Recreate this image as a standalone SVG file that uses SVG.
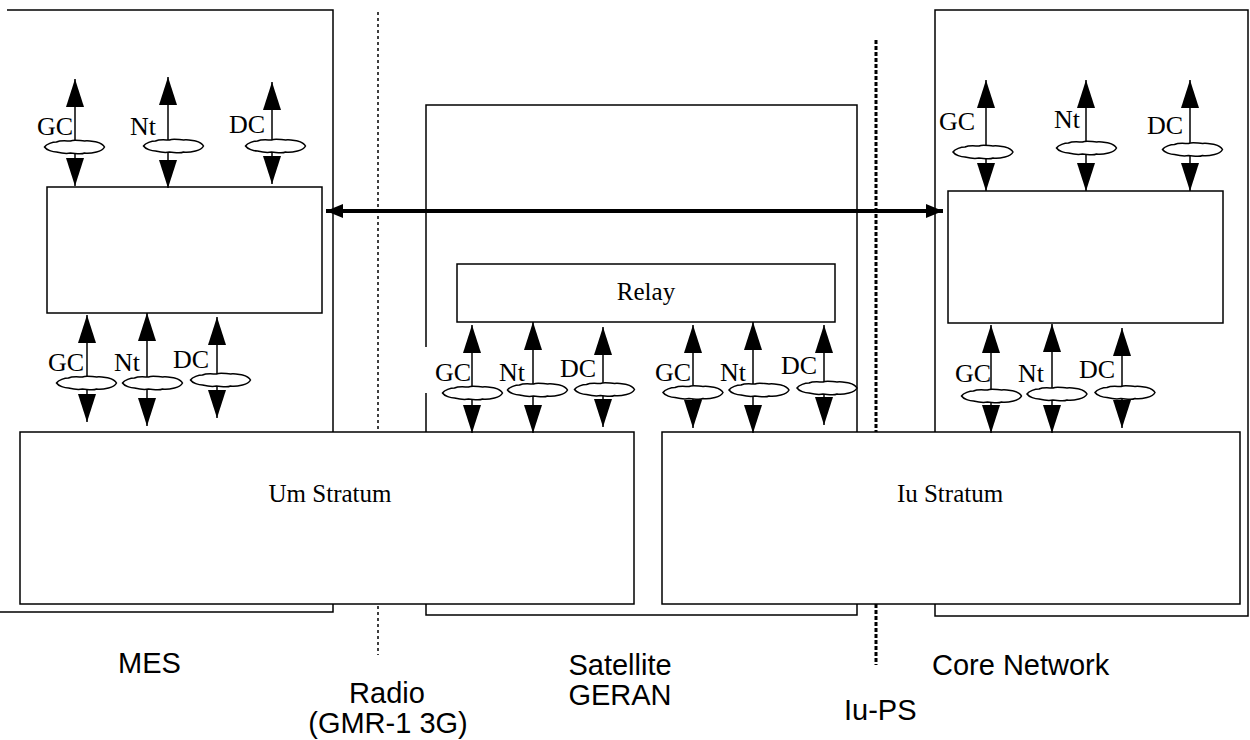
<svg xmlns="http://www.w3.org/2000/svg" xmlns:xlink="http://www.w3.org/1999/xlink" width="1250" height="740" viewBox="0 0 1250 740">
<style>
.box{fill:#fff;stroke:#000;stroke-width:1.5}
.open{fill:none;stroke:#000;stroke-width:1.5}
.sh{stroke:#000;stroke-width:1.5;fill:none}
.lbl{font-family:"Liberation Serif","Times New Roman",serif;font-size:26px;fill:#000}
.big{font-family:"Liberation Serif","Times New Roman",serif;font-size:25px;fill:#000}
.cap{font-family:"Liberation Sans",Arial,sans-serif;font-size:29px;fill:#000}
.cl{fill:#fff;stroke:#000;stroke-width:1.5}
</style>
<defs>
<marker id="ah" viewBox="0 0 28 18" refX="28" refY="9" markerWidth="28" markerHeight="18" markerUnits="userSpaceOnUse" orient="auto-start-reverse">
<path d="M0,0 L28,9 L0,18 z" fill="#000"/>
</marker>
<marker id="bh" viewBox="0 0 17 14" refX="17" refY="7" markerWidth="17" markerHeight="14" markerUnits="userSpaceOnUse" orient="auto-start-reverse">
<path d="M0,0 L17,7 L0,14 z" fill="#000"/>
</marker>
<path id="cloud" d="M-30,0 C-28,-3 -22,-5 -18,-5 C-14,-7 -8,-6 -4,-6 C0,-8 6,-6 10,-6 C14,-7 20,-5 22,-5 C26,-4 29,-2 30,0 C29,2 26,4 22,5 C18,6 14,7 10,6 C6,8 0,6 -4,6 C-8,7 -14,6 -18,5 C-22,5 -28,3 -30,0 Z"/>
</defs>
<rect width="1250" height="740" fill="#fff"/>

<g id="mes">
<polyline class="open" points="7,10 333,10 333,612 0,612"/>
</g>
<g id="satellite-geran">
<polyline class="open" points="426,347 426,105 857,105 857,615 426,615 426,393"/>
</g>
<g id="core-network">
<rect class="open" x="935" y="10" width="313" height="606"/>
</g>

<g id="interfaces">
<line x1="378" y1="12" x2="378" y2="655" stroke="#000" stroke-width="1.5" stroke-dasharray="3 3"/>
<line x1="876" y1="40" x2="876" y2="665" stroke="#000" stroke-width="3" stroke-dasharray="4 2"/>
</g>

<g id="um-stratum">
<rect class="box" x="20" y="432" width="614" height="172"/>
<text class="big" x="330" y="502" text-anchor="middle">Um Stratum</text>
</g>
<g id="iu-stratum">
<rect class="box" x="662" y="432" width="578" height="172"/>
<text class="big" x="950" y="502" text-anchor="middle">Iu Stratum</text>
</g>
<g id="mes-upper">
<rect class="box" x="47" y="187" width="275" height="126"/>
</g>
<g id="core-upper">
<rect class="box" x="948" y="191" width="275" height="132"/>
</g>
<g id="relay">
<rect class="box" x="457" y="264" width="378" height="58"/>
<text class="big" x="646" y="300" text-anchor="middle">Relay</text>
</g>

<g id="connectors">
<line x1="326" y1="211" x2="943" y2="211" stroke="#000" stroke-width="4" marker-start="url(#bh)" marker-end="url(#bh)"/>

<g class="sh" marker-start="url(#ah)" marker-end="url(#ah)">
<line x1="75" y1="79" x2="75" y2="186"/>
<line x1="168" y1="77" x2="168" y2="188"/>
<line x1="272" y1="82" x2="272" y2="184"/>
<line x1="87" y1="315" x2="87" y2="422"/>
<line x1="147" y1="313" x2="147" y2="426"/>
<line x1="217" y1="317" x2="217" y2="418"/>
<line x1="472" y1="325" x2="472" y2="433"/>
<line x1="533" y1="322" x2="533" y2="433"/>
<line x1="603" y1="327" x2="603" y2="427"/>
<line x1="693" y1="325" x2="693" y2="428"/>
<line x1="753" y1="322" x2="753" y2="433"/>
<line x1="824" y1="325" x2="824" y2="425"/>
<line x1="986" y1="80" x2="986" y2="191"/>
<line x1="1086" y1="80" x2="1086" y2="191"/>
<line x1="1190" y1="80" x2="1190" y2="191"/>
<line x1="991" y1="325" x2="991" y2="433"/>
<line x1="1052" y1="324" x2="1052" y2="433"/>
<line x1="1122" y1="328" x2="1122" y2="428"/>
</g>

<g class="cl">
<use xlink:href="#cloud" transform="translate(74.5,147)"/>
<use xlink:href="#cloud" transform="translate(173.5,146)"/>
<use xlink:href="#cloud" transform="translate(275.5,146)"/>
<use xlink:href="#cloud" transform="translate(86.5,383)"/>
<use xlink:href="#cloud" transform="translate(152.5,383)"/>
<use xlink:href="#cloud" transform="translate(220.5,380)"/>
<use xlink:href="#cloud" transform="translate(472.5,393)"/>
<use xlink:href="#cloud" transform="translate(537.5,390)"/>
<use xlink:href="#cloud" transform="translate(604.5,389.5)"/>
<use xlink:href="#cloud" transform="translate(693,392.5)"/>
<use xlink:href="#cloud" transform="translate(759,390)"/>
<use xlink:href="#cloud" transform="translate(827,388)"/>
<use xlink:href="#cloud" transform="translate(983,152)"/>
<use xlink:href="#cloud" transform="translate(1086.5,148)"/>
<use xlink:href="#cloud" transform="translate(1192.5,149.5)"/>
<use xlink:href="#cloud" transform="translate(991.5,396)"/>
<use xlink:href="#cloud" transform="translate(1057,394)"/>
<use xlink:href="#cloud" transform="translate(1125,392.5)"/>
</g>

<g class="lbl">
<text x="37" y="135">GC</text>
<text x="130" y="135">Nt</text>
<text x="229" y="133">DC</text>
<text x="48" y="371">GC</text>
<text x="114" y="371">Nt</text>
<text x="173" y="368">DC</text>
<text x="435" y="381">GC</text>
<text x="499" y="381">Nt</text>
<text x="560" y="377">DC</text>
<text x="655" y="381">GC</text>
<text x="720" y="381">Nt</text>
<text x="781" y="374">DC</text>
<text x="939" y="130">GC</text>
<text x="1054" y="128">Nt</text>
<text x="1147" y="134">DC</text>
<text x="955" y="382">GC</text>
<text x="1018" y="382">Nt</text>
<text x="1079" y="378">DC</text>
</g>
</g>

<g id="captions" class="cap">
<text x="118" y="673">MES</text>
<text x="387" y="703" text-anchor="middle">Radio</text>
<text x="388" y="733" text-anchor="middle">(GMR-1 3G)</text>
<text x="620" y="675" text-anchor="middle">Satellite</text>
<text x="620" y="705" text-anchor="middle">GERAN</text>
<text x="844" y="720">Iu-PS</text>
<text x="932" y="675">Core Network</text>
</g>
</svg>
